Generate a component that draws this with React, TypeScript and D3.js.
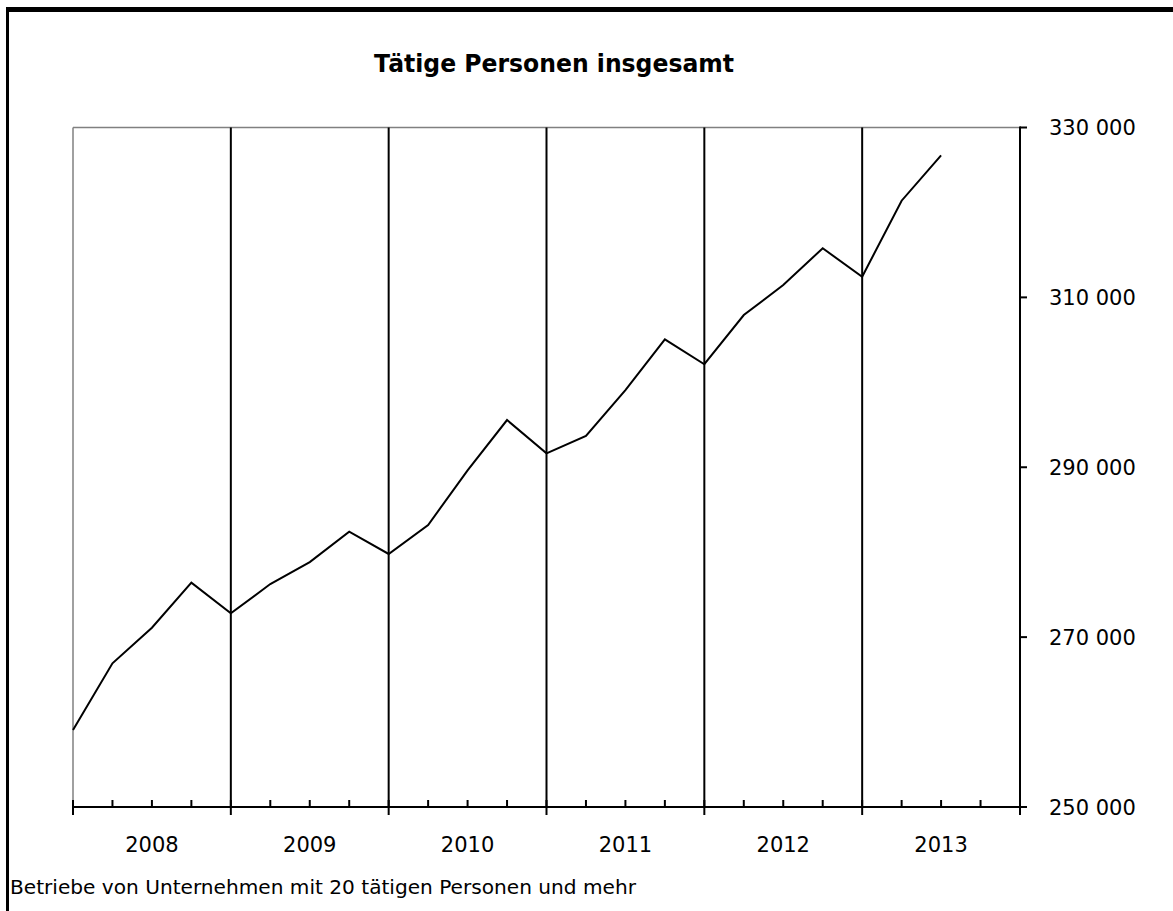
import React, { useEffect } from "react";
import * as d3 from "d3";

const title = "Tätige Personen insgesamt";
const footnote = "Betriebe von Unternehmen mit 20 tätigen Personen und mehr";
const years = ["2008", "2009", "2010", "2011", "2012", "2013"];
const quartersPerYear = 4;
// quarterly values starting Q1 2008 (index 0) through Q3 2013
const values = [
  259070, 266920, 271110, 276410,
  272800, 276250, 278840, 282410,
  279790, 283200, 289640, 295560,
  291640, 293680, 299090, 305060,
  302130, 307920, 311460, 315780,
  312430, 321380, 326720,
];
const yTicks = [250000, 270000, 290000, 310000, 330000];

const W = 1173;
const H = 911;
const left = 73;
const right = 1020;
const top = 127.5;
const bottom = 807;

export default function App() {
  useEffect(() => {
    document.body.style.margin = "0";
  }, []);

  const nQ = years.length * quartersPerYear;
  const x = d3.scaleLinear().domain([0, nQ]).range([left, right]);
  const y = d3.scaleLinear().domain([250000, 330000]).range([bottom, top]);
  const line = d3
    .line<number>()
    .x((_, i) => x(i))
    .y((d) => y(d));
  const fmt = (v: number) => d3.format(",")(v).replace(/,/g, " ");

  const quarterIdx = d3.range(0, nQ + 1);
  const yearBounds = d3.range(0, years.length + 1).map((k) => k * quartersPerYear);

  return (
    <svg
      width={W}
      height={H}
      style={{ display: "block", position: "absolute", left: 0, top: 0, background: "#fff" }}
    >
      {/* outer frame */}
      <rect x={6} y={7} width={W - 6} height={5} fill="#000" />
      <rect x={6} y={7} width={3} height={H - 7} fill="#000" />

      <text
        x={554}
        y={72}
        textAnchor="middle"
        fontFamily="DejaVu Sans"
        fontWeight="bold"
        fontSize={25}
        textLength={360}
        lengthAdjust="spacingAndGlyphs"
        fill="#000"
      >
        {title}
      </text>

      {/* plot frame gray */}
      <line x1={left} x2={right} y1={top} y2={top} stroke="#808080" strokeWidth={1.5} />
      <line x1={left} x2={left} y1={top} y2={bottom} stroke="#808080" strokeWidth={1.5} />

      {/* year separators */}
      {yearBounds.slice(1, -1).map((q) => (
        <line key={"v" + q} x1={x(q)} x2={x(q)} y1={top} y2={bottom} stroke="#000" strokeWidth={2} />
      ))}

      {/* x axis */}
      <line x1={left} x2={right + 7} y1={bottom} y2={bottom} stroke="#000" strokeWidth={2} />
      {quarterIdx.map((q) => {
        const major = q % quartersPerYear === 0;
        return (
          <line
            key={"t" + q}
            x1={x(q)}
            x2={x(q)}
            y1={bottom - 7}
            y2={major ? bottom + 8 : bottom}
            stroke="#000"
            strokeWidth={2}
          />
        );
      })}
      {years.map((yr, i) => (
        <text
          key={yr}
          x={x(i * quartersPerYear + quartersPerYear / 2)}
          y={852}
          textAnchor="middle"
          fontFamily="DejaVu Sans"
          fontSize={21}
          fill="#000"
        >
          {yr}
        </text>
      ))}

      {/* right y axis */}
      <line x1={right} x2={right} y1={top - 1} y2={bottom + 8} stroke="#000" strokeWidth={2} />
      {yTicks.map((t) => (
        <g key={t}>
          <line x1={right} x2={right + 7} y1={y(t)} y2={y(t)} stroke="#000" strokeWidth={2} />
          <text
            x={1049}
            y={y(t)}
            dy="0.36em"
            fontFamily="DejaVu Sans"
            fontSize={21}
            fill="#000"
          >
            {fmt(t)}
          </text>
        </g>
      ))}

      {/* data line */}
      <path d={line(values) || ""} fill="none" stroke="#000" strokeWidth={2} strokeLinejoin="miter" />

      <text
        x={10}
        y={894}
        fontFamily="DejaVu Sans Condensed, DejaVu Sans"
        fontSize={19}
        textLength={626}
        lengthAdjust="spacingAndGlyphs"
        fill="#000"
      >
        {footnote}
      </text>
    </svg>
  );
}
